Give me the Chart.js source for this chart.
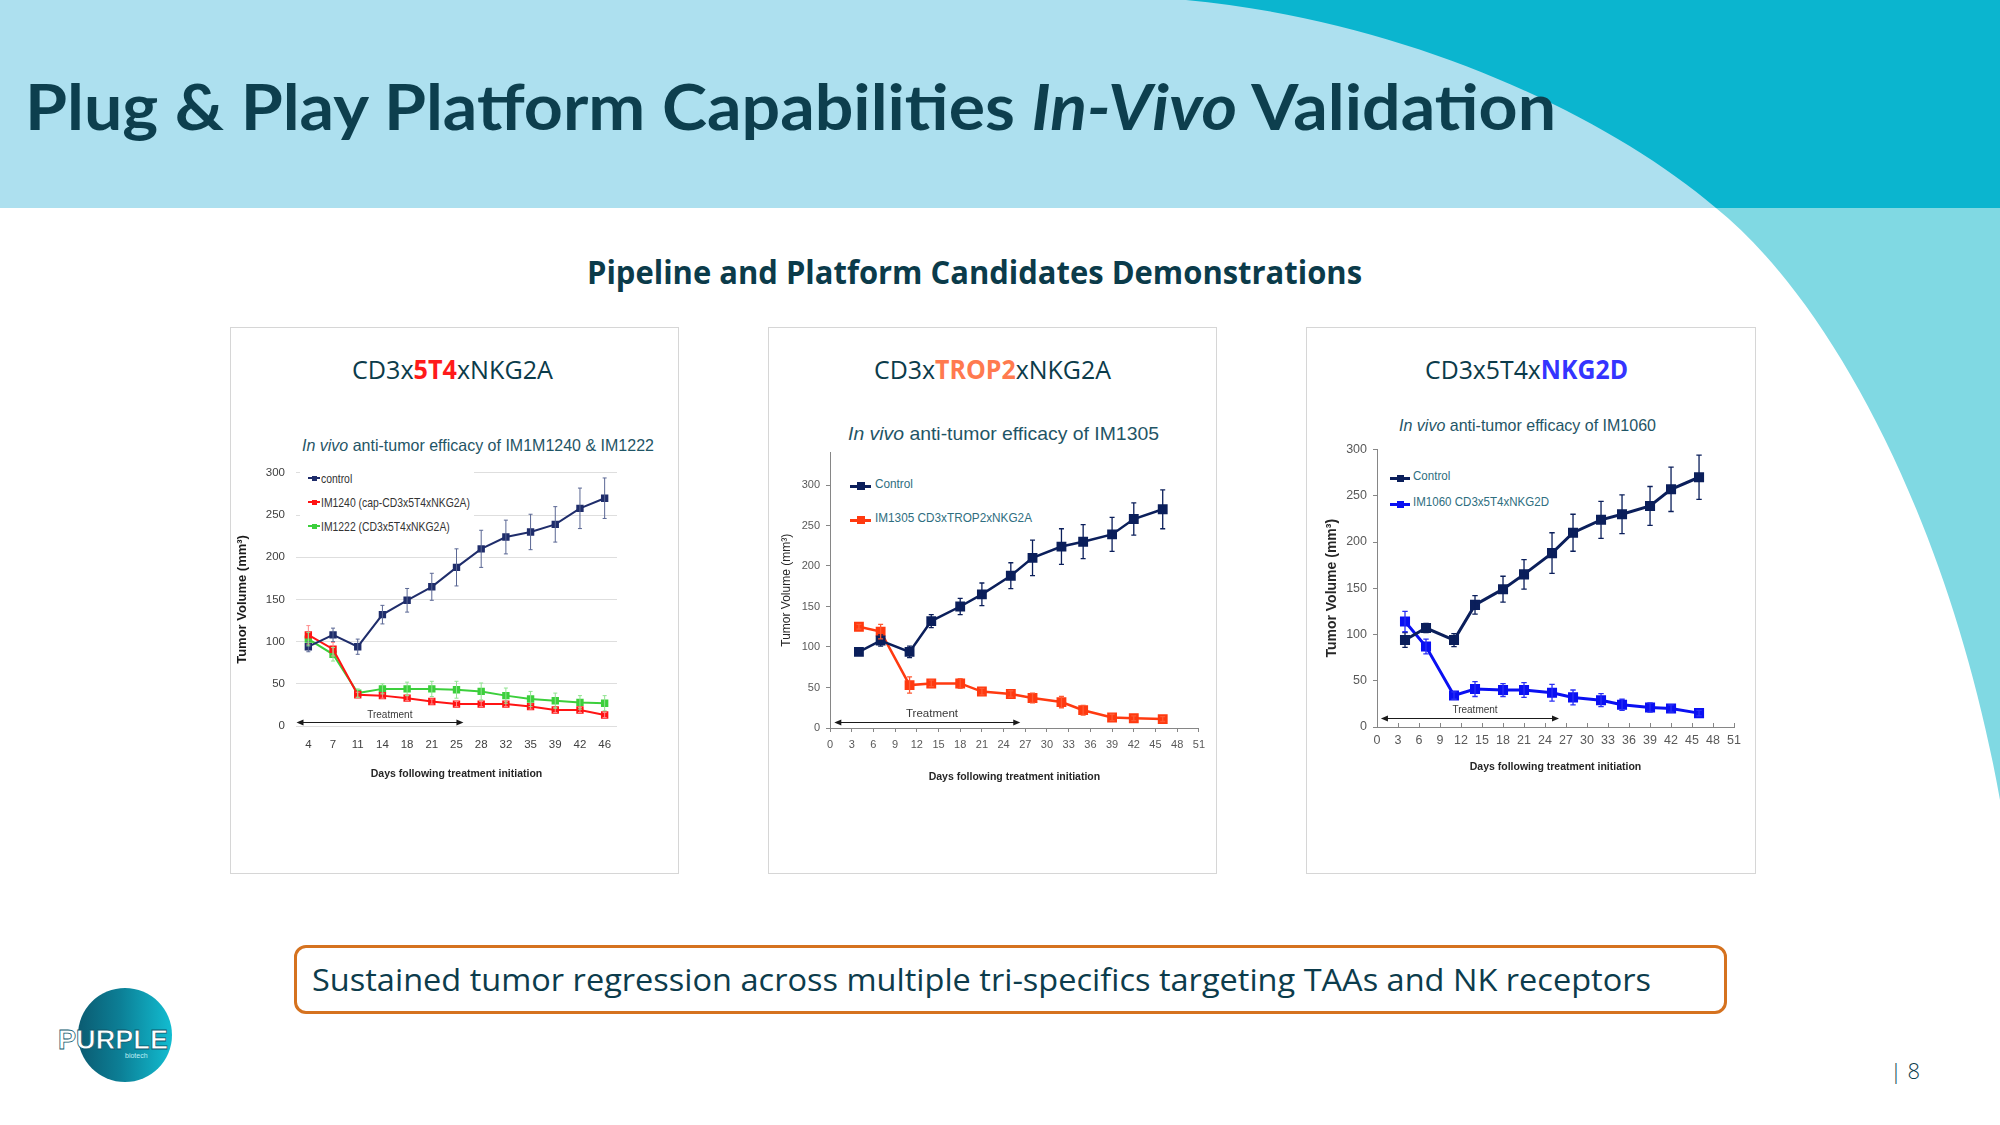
<!DOCTYPE html>
<html>
<head>
<meta charset="utf-8">
<title>Plug & Play Platform Capabilities In-Vivo Validation</title>
<script src="https://cdn.jsdelivr.net/npm/chart.js@4.4.1/dist/chart.umd.min.js"></script>
<style>
  html, body { margin: 0; padding: 0; background: #fff; }
  #slide { position: relative; width: 2000px; height: 1125px; overflow: hidden; background: #fff; font-family: "Open Sans", sans-serif; color: #0c3c4b; }
  #bg { position: absolute; left: 0; top: 0; }
  .txt { position: absolute; white-space: nowrap; line-height: 1; transform-origin: 0 50%; }
  .panel { position: absolute; border: 1px solid #d6d6d6; box-sizing: border-box; background: #fff; }
  .ctitle { font-family: "Liberation Sans Narrow", "Liberation Sans", sans-serif; color: #1f5566; }
  canvas { position: absolute; }
  .legend { position: absolute; background: #fff; }
  .lrow { position: absolute; left: 0; display: flex; align-items: center; white-space: nowrap; }
  .lrow .lab { display: inline-block; transform-origin: 0 50%; }
  .mk { position: relative; display: inline-block; }
  .mk i { position: absolute; left: 0; right: 0; top: 50%; }
  .mk b { position: absolute; left: 50%; top: 50%; }
</style>
</head>
<body>
<div id="slide">
  <svg id="bg" width="2000" height="1125" viewBox="0 0 2000 1125">
    <rect x="0" y="0" width="2000" height="208" fill="#ade0ef"/>
    <path d="M1186,0 C1400,20 1600,110 1716,208 L2000,208 L2000,0 Z" fill="#0bb5cf"/>
    <path d="M1716,208 C1830,300 1950,520 2000,800 L2000,208 Z" fill="#80d9e3"/>
  </svg>

  <div class="txt fit" data-w="1531" style="left:25px; top:74px; font-family:Lato, sans-serif; font-weight:700; font-size:64px; color:#0d3f4e;">Plug &amp; Play Platform Capabilities <i>In-Vivo</i> Validation</div>
  <div class="txt fit" data-w="775" style="left:587px; top:256px; font-weight:700; font-size:32px; color:#0b3b4a;">Pipeline and Platform Candidates Demonstrations</div>

  <div class="panel" style="left:230px; top:327px; width:449px; height:547px;"></div>
  <div class="panel" style="left:768px; top:327px; width:449px; height:547px;"></div>
  <div class="panel" style="left:1306px; top:327px; width:450px; height:547px;"></div>

  <div class="txt fit" data-w="201" style="left:352px; top:356px; font-size:26px; color:#0b3b4a;">CD3x<b style="color:#ff1a1a">5T4</b>xNKG2A</div>
  <div class="txt fit" data-w="237" style="left:874px; top:356px; font-size:26px; color:#0b3b4a;">CD3x<b style="color:#ff7a4f">TROP2</b>xNKG2A</div>
  <div class="txt fit" data-w="203" style="left:1425px; top:356px; font-size:26px; color:#0b3b4a;">CD3x5T4x<b style="color:#3434ff">NKG2D</b></div>

  <div class="txt fit ctitle" data-w="352" style="left:302px; top:437px; font-size:16.5px;"><i>In vivo</i> anti-tumor efficacy of IM1M1240 &amp; IM1222</div>
  <div class="txt fit ctitle" data-w="311" style="left:848px; top:424px; font-size:19px;"><i>In vivo</i> anti-tumor efficacy of IM1305</div>
  <div class="txt fit ctitle" data-w="257" style="left:1399px; top:417px; font-size:17px;"><i>In vivo</i> anti-tumor efficacy of IM1060</div>

  <canvas id="c1" width="392" height="325" style="left:235px; top:455px; width:392px; height:325px;"></canvas>
  <canvas id="c2" width="432" height="343" style="left:779px; top:440px; width:432px; height:343px;"></canvas>
  <canvas id="c3" width="427" height="337" style="left:1324px; top:436px; width:427px; height:337px;"></canvas>

  <div id="lg1" class="legend" style="left:300px; top:464px; width:174px; height:74px;"></div>
  <div id="lg2" class="legend" style="left:846px; top:474px; width:190px; height:56px;"></div>
  <div id="lg3" class="legend" style="left:1386px; top:468px; width:170px; height:44px;"></div>

  <div style="position:absolute; left:294px; top:945px; width:1433px; height:69px; border:3px solid #d5721f; border-radius:12px; box-sizing:border-box; background:#fff;"></div>
  <div class="txt fit" data-w="1339" style="left:312px; top:964px; font-size:31px; color:#0c3c4c;">Sustained tumor regression across multiple tri-specifics targeting TAAs and NK receptors</div>

  <div style="position:absolute; left:78px; top:988px; width:94px; height:94px; border-radius:50%; background:linear-gradient(90deg, #0b5b71 0%, #0c7f96 45%, #12bdd1 100%);"></div>
  <div class="txt fit" data-w="110" style="left:58px; top:1026px; font-family:'Liberation Sans', sans-serif; font-weight:700; font-size:28px; color:#fff; -webkit-text-stroke:0.8px #0d5a6e;">PURPLE</div>
  <div class="txt" style="left:125px; top:1052px; font-family:'Liberation Sans', sans-serif; font-size:7px; color:#bfeff5;">biotech</div>

  <div class="txt" style="left:1890px; top:1059px; font-size:22px; font-weight:300; color:#0c3c4c;">| 8</div>
</div>

<script>
// days after treatment start (same schedule for all three studies)
const days = [4, 7, 11, 14, 18, 21, 25, 28, 32, 35, 39, 42, 46];
const dayLabels = days.map(String);

// panel 1: CD3x5T4xNKG2A
const control1 = [94, 108, 94, 132, 149, 165, 188, 210, 224, 230, 239, 258, 270];
const control1Err = [6, 8, 9, 11, 14, 16, 22, 22, 20, 21, 21, 24, 24];
const im1240 = [108, 91, 37, 36, 33, 29, 26, 26, 26, 23, 19, 19, 13];
const im1240Err = [11, 8, 3, 3, 3, 3, 3, 3, 3, 3, 3, 3, 3];
const im1222 = [103, 85, 39, 44, 44, 44, 43, 41, 36, 32, 30, 28, 27];
const im1222Err = [8, 8, 5, 6, 8, 9, 10, 10, 9, 9, 9, 8, 9];

// panel 2: CD3xTROP2xNKG2A
const control2 = [94, 108, 94, 132, 150, 165, 188, 210, 224, 230, 239, 258, 270];
const control2Err = [3, 7, 7, 8, 10, 14, 16, 22, 22, 21, 21, 20, 24];
const im1305 = [125, 119, 53, 55, 55, 45, 42, 37, 32, 22, 13, 12, 11];
const im1305Err = [3, 9, 10, 4, 6, 4, 4, 6, 7, 6, 4, 3, 3];

// panel 3: CD3x5T4xNKG2D
const control3 = [94, 107, 94, 132, 149, 165, 188, 210, 224, 230, 239, 257, 270];
const control3Err = [8, 5, 7, 10, 14, 16, 22, 20, 20, 21, 21, 24, 24];
const im1060 = [114, 87, 34, 41, 40, 40, 37, 32, 29, 24, 21, 20, 15];
const im1060Err = [11, 8, 4, 8, 7, 8, 9, 8, 7, 6, 5, 4, 3];

const volTicks = [0, 50, 100, 150, 200, 250, 300];

const NARROW = '"Liberation Sans Narrow", "Liberation Sans", Arial, sans-serif';
const SANS = '"Liberation Sans", Arial, sans-serif';
Chart.defaults.font.family = SANS;
Chart.defaults.color = '#595959';

// vertical error bars, read from dataset.errors
const errorBars = {
  id: 'errorBars',
  afterDatasetsDraw(chart) {
    const ctx = chart.ctx;
    const yScale = chart.scales.y;
    chart.data.datasets.forEach((ds, i) => {
      if (!ds.errors) return;
      const meta = chart.getDatasetMeta(i);
      ctx.save();
      ctx.strokeStyle = ds.errorColor || ds.borderColor;
      ctx.lineWidth = ds.errorWidth || 1;
      meta.data.forEach((pt, j) => {
        const d = ds.data[j];
        const v = typeof d === 'number' ? d : d.y;
        const e = ds.errors[j];
        const top = yScale.getPixelForValue(v + e);
        const bot = yScale.getPixelForValue(v - e);
        const cap = ds.errorCap || 2.5;
        ctx.beginPath();
        ctx.moveTo(pt.x, top); ctx.lineTo(pt.x, bot);
        ctx.moveTo(pt.x - cap, top); ctx.lineTo(pt.x + cap, top);
        ctx.moveTo(pt.x - cap, bot); ctx.lineTo(pt.x + cap, bot);
        ctx.stroke();
      });
      ctx.restore();
    });
  }
};

// double headed "Treatment" arrow along the x axis
const treatmentArrow = {
  id: 'treatment',
  afterDatasetsDraw(chart, args, opts) {
    if (!opts.text) return;
    const { ctx, scales: { x, y } } = chart;
    const x1 = x.getPixelForValue(opts.from);
    const x2 = x.getPixelForValue(opts.to);
    const yy = Math.round(y.getPixelForValue(opts.y)) + 0.5;
    ctx.save();
    ctx.strokeStyle = '#1a1a1a';
    ctx.fillStyle = '#1a1a1a';
    ctx.lineWidth = 1;
    ctx.beginPath(); ctx.moveTo(x1 + 4, yy); ctx.lineTo(x2 - 4, yy); ctx.stroke();
    [[x1, 1], [x2, -1]].forEach(([px, dir]) => {
      ctx.beginPath();
      ctx.moveTo(px, yy);
      ctx.lineTo(px + 7 * dir, yy - 3);
      ctx.lineTo(px + 7 * dir, yy + 3);
      ctx.closePath();
      ctx.fill();
    });
    ctx.font = opts.font;
    ctx.textAlign = 'center';
    ctx.textBaseline = 'middle';
    ctx.fillStyle = '#3a3a3a';
    ctx.fillText(opts.text, x.getPixelForValue(opts.textX), y.getPixelForValue(opts.textY));
    ctx.restore();
  }
};

Chart.register(errorBars, treatmentArrow);

function series(label, values, errors, color, errColor, extra) {
  return Object.assign({
    label: label,
    data: values,
    errors: errors,
    borderColor: color,
    backgroundColor: color,
    errorColor: errColor,
    pointStyle: 'rect',
    tension: 0
  }, extra);
}

function xy(values) {
  return days.map((d, i) => ({ x: d, y: values[i] }));
}

// chart 1: category axis, light gridlines, no axis lines
const chart1 = new Chart(document.getElementById('c1'), {
  type: 'line',
  data: {
    labels: dayLabels,
    datasets: [
      series('control', control1, control1Err, '#1f2d6b', '#5a6794', { borderWidth: 2, pointRadius: 3.8, errorCap: 2 }),
      series('IM1240 (cap-CD3x5T4xNKG2A)', im1240, im1240Err, '#ff1414', '#ff8a8a', { borderWidth: 2, pointRadius: 3.8, errorCap: 2 }),
      series('IM1222 (CD3x5T4xNKG2A)', im1222, im1222Err, '#3ccf3c', '#8fe38f', { borderWidth: 2, pointRadius: 3.8, errorCap: 2 })
    ]
  },
  options: {
    responsive: false,
    animation: false,
    events: [],
    layout: { padding: { top: 14, right: 10, left: 0, bottom: 0 } },
    plugins: {
      legend: { display: false },
      tooltip: { enabled: false },
      treatment: { text: 'Treatment', from: -0.48, to: 6.28, y: 4.3, textX: 3.3, textY: 12.8, font: '10px ' + NARROW }
    },
    scales: {
      x: {
        type: 'category',
        offset: true,
        grid: { display: false, drawTicks: false },
        border: { display: false },
        ticks: { font: { size: 11.5 }, padding: 12, maxRotation: 0, autoSkip: false, color: '#404040' },
        title: { display: true, text: 'Days following treatment initiation', font: { size: 10.5, weight: 'bold' }, color: '#262626', padding: 0 },
        afterFit(s) { s.height = 54; }
      },
      y: {
        min: 0, max: 300,
        ticks: { stepSize: 50, font: { size: 11.5 }, padding: 11, color: '#404040' },
        grid: { color: '#dedede', drawTicks: false },
        border: { display: false },
        title: { display: true, text: 'Tumor Volume (mm³)', font: { size: 13, weight: 'bold' }, color: '#1a1a1a', padding: 0 },
        afterFit(s) { s.width = 61; }
      }
    }
  }
});

// charts 2 and 3: linear day axis 0..51 with axis lines and tick marks
function linearOptions(cfg) {
  return {
    responsive: false,
    animation: false,
    events: [],
    layout: { padding: { top: cfg.padTop, right: 10, left: 0, bottom: 0 } },
    plugins: {
      legend: { display: false },
      tooltip: { enabled: false },
      treatment: cfg.treatment
    },
    scales: {
      x: {
        type: 'linear',
        min: 0, max: 51,
        ticks: { stepSize: 3, font: { size: cfg.tickSize }, padding: cfg.xPad, maxRotation: 0, autoSkip: false, color: '#595959' },
        grid: { drawOnChartArea: false, tickLength: cfg.xTick, color: '#868686' },
        border: { display: true, color: '#868686', width: 1 },
        title: { display: true, text: 'Days following treatment initiation', font: { size: 10.5, weight: 'bold' }, color: '#262626', padding: 0 },
        afterFit(s) { s.height = cfg.xHeight; }
      },
      y: {
        min: 0, max: cfg.yMax,
        ticks: { stepSize: 50, font: { size: cfg.tickSize }, padding: 6, color: '#595959' },
        afterBuildTicks(s) { s.ticks = volTicks.map(v => ({ value: v })); },
        grid: { drawOnChartArea: false, tickLength: 4, color: '#868686' },
        border: { display: true, color: '#868686', width: 1 },
        title: { display: true, text: 'Tumor Volume (mm³)', font: { size: cfg.yTitleSize, weight: cfg.yTitleWeight }, color: '#262626', padding: 0 },
        afterFit(s) { s.width = cfg.yWidth; }
      }
    }
  };
}

const chart2 = new Chart(document.getElementById('c2'), {
  type: 'line',
  data: {
    datasets: [
      series('Control', xy(control2), control2Err, '#0b1f5b', '#0b1f5b', { borderWidth: 2.5, pointRadius: 5.2, errorWidth: 1.3, errorCap: 2.5 }),
      series('IM1305 CD3xTROP2xNKG2A', xy(im1305), im1305Err, '#ff3a10', '#ff5a33', { borderWidth: 2.5, pointRadius: 5.2, errorWidth: 1.3, errorCap: 2.5 })
    ]
  },
  options: linearOptions({
    padTop: 11.5, yMax: 340, yWidth: 51, xHeight: 55, xTick: 4, xPad: 6, tickSize: 11,
    yTitleSize: 12, yTitleWeight: 'normal',
    treatment: { text: 'Treatment', from: 0.6, to: 26.3, y: 7.4, textX: 14.1, textY: 17.6, font: '11.5px ' + NARROW }
  })
});

const chart3 = new Chart(document.getElementById('c3'), {
  type: 'line',
  data: {
    datasets: [
      series('Control', xy(control3), control3Err, '#0b1f5b', '#0b1f5b', { borderWidth: 3, pointRadius: 5, errorWidth: 1.3, errorCap: 2.7 }),
      series('IM1060 CD3x5T4xNKG2D', xy(im1060), im1060Err, '#0a10f2', '#2a30f5', { borderWidth: 3, pointRadius: 5, errorWidth: 1.3, errorCap: 2.7 })
    ]
  },
  options: linearOptions({
    padTop: 11, yMax: 300, yWidth: 53, xHeight: 46, xTick: -4, xPad: 10, tickSize: 12.5,
    yTitleSize: 14, yTitleWeight: 'bold',
    treatment: { text: 'Treatment', from: 0.56, to: 26, y: 9.7, textX: 14, textY: 18, font: '10px ' + NARROW }
  })
});

// html legends built from each chart's datasets; labels squeezed to the measured width
function buildLegend(id, chart, cfg) {
  const box = document.getElementById(id);
  const labs = [];
  chart.data.datasets.forEach((ds, i) => {
    const row = document.createElement('div');
    row.className = 'lrow';
    row.style.top = (cfg.firstMid + i * cfg.gap - 10) + 'px';
    row.style.height = '20px';
    row.style.font = cfg.font;
    row.style.color = cfg.color;
    const mk = document.createElement('span');
    mk.className = 'mk';
    mk.style.width = cfg.lineLen + 'px';
    mk.style.height = '20px';
    mk.style.top = (cfg.markShift || 0) + 'px';
    mk.style.marginRight = cfg.gapText + 'px';
    mk.innerHTML = '<i style="height:' + cfg.lineW + 'px; margin-top:' + (-cfg.lineW / 2) + 'px; background:' + ds.borderColor + '"></i>' +
      '<b style="width:' + cfg.sq + 'px; height:' + cfg.sq + 'px; margin-left:' + (-cfg.sq / 2) + 'px; margin-top:' + (-cfg.sq / 2) + 'px; background:' + ds.borderColor + '"></b>';
    const lab = document.createElement('span');
    lab.className = 'lab';
    lab.textContent = ds.label;
    row.appendChild(mk);
    row.appendChild(lab);
    row.style.left = cfg.left + 'px';
    box.appendChild(row);
    labs.push(lab);
  });
  const sx = cfg.labelW / labs[cfg.refIndex].getBoundingClientRect().width;
  labs.forEach(l => { l.style.transform = 'scaleX(' + sx.toFixed(4) + ')'; });
}

buildLegend('lg1', chart1, { left: 8, firstMid: 14, gap: 24, font: '13px ' + SANS, color: '#333', lineLen: 12, lineW: 2, sq: 5, gapText: 1, refIndex: 1, labelW: 149 });
buildLegend('lg2', chart2, { left: 4, firstMid: 9, gap: 34, font: '13px ' + SANS, color: '#2e6e80', lineLen: 21, lineW: 3, sq: 8, gapText: 4, markShift: 3, refIndex: 1, labelW: 157 });
buildLegend('lg3', chart3, { left: 4, firstMid: 7, gap: 26, font: '13px ' + SANS, color: '#2e6e80', lineLen: 20, lineW: 3, sq: 7, gapText: 3, markShift: 3, refIndex: 1, labelW: 136 });

// stretch text lines to the widths measured on the slide
function fitAll() {
  document.querySelectorAll('.fit').forEach(el => {
    el.style.transform = 'none';
    const w = el.getBoundingClientRect().width;
    const target = parseFloat(el.dataset.w);
    if (w > 0) el.style.transform = 'scaleX(' + (target / w).toFixed(4) + ')';
  });
}
fitAll();
if (document.fonts && document.fonts.ready) document.fonts.ready.then(fitAll);
</script>
</body>
</html>
